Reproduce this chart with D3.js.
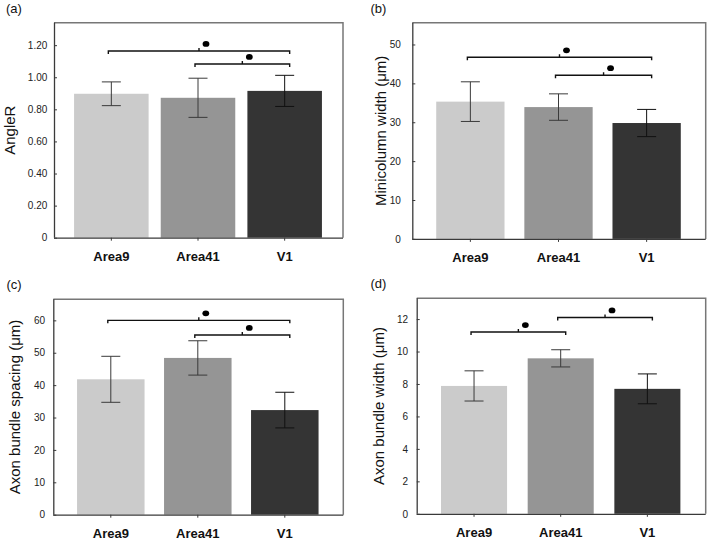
<!DOCTYPE html>
<html>
<head>
<meta charset="utf-8">
<script src="https://cdn.jsdelivr.net/npm/d3@7"></script>
<style>
  html, body { margin: 0; padding: 0; background: #fff; }
  svg { display: block; }
</style>
</head>
<body>
<svg id="chart" width="709" height="540"></svg>
<script>
// ---------- DATA ----------
const categories = ["Area9", "Area41", "V1"];
const barColors = ["#cbcbcb", "#959595", "#343434"];

const angleR = [0.897, 0.872, 0.915];
const angleRErr = [0.074, 0.122, 0.097];

const minicolumnWidth = [35.3, 33.9, 29.8];
const minicolumnWidthErr = [5.1, 3.4, 3.5];

const axonSpacing = [41.8, 48.4, 32.3];
const axonSpacingErr = [7.1, 5.3, 5.5];

const axonWidth = [7.88, 9.58, 7.70];
const axonWidthErr = [0.93, 0.53, 0.92];

const ticksA = [0, 0.2, 0.4, 0.6, 0.8, 1.0, 1.2];
const ticksB = [0, 10, 20, 30, 40, 50];
const ticksC = [0, 10, 20, 30, 40, 50, 60];
const ticksD = [0, 2, 4, 6, 8, 10, 12];

// significance brackets: [fromIndex, toIndex, yValue]
const bracketsA = [[0, 2, 1.164], [1, 2, 1.083]];
const bracketsB = [[0, 2, 46.7], [1, 2, 42.1]];
const bracketsC = [[0, 2, 60.0], [1, 2, 55.5]];
const bracketsD = [[0, 1, 11.2], [1, 2, 12.1]];

// ---------- LAYOUT ----------
const panels = [
  { label: "(a)", lx: 6, ly: 13, title: "AngleR", values: angleR, errs: angleRErr,
    ticks: ticksA, fmt: v => v === 0 ? "0" : d3.format(".2f")(v), ymax: 1.34,
    left: 54, right: 343, top: 22.7, bottom: 237.7, pin: 0.14, tpad: 6.7, tx: -45, brackets: bracketsA },
  { label: "(b)", lx: 370.5, ly: 13, title: "Minicolumn width (\u03bcm)", values: minicolumnWidth, errs: minicolumnWidthErr,
    ticks: ticksB, fmt: d3.format("d"), ymax: 55.6,
    left: 412.3, right: 705.7, top: 22.7, bottom: 238.9, pin: 0.225, tpad: 11.5, tx: -32, brackets: bracketsB },
  { label: "(c)", lx: 6.5, ly: 289, title: "Axon bundle spacing (\u03bcm)", values: axonSpacing, errs: axonSpacingErr,
    ticks: ticksC, fmt: d3.format("d"), ymax: 66.5,
    left: 53.3, right: 343.3, top: 299.3, bottom: 514.7, pin: 0.224, tpad: 8.3, tx: -39, brackets: bracketsC },
  { label: "(d)", lx: 370.5, ly: 288, title: "Axon bundle width (\u03bcm)", values: axonWidth, errs: axonWidthErr,
    ticks: ticksD, fmt: d3.format("d"), ymax: 13.28,
    left: 416.7, right: 705.7, top: 298.3, bottom: 513.8, pin: 0.238, tpad: 8.7, tx: -38.7, brackets: bracketsD }
];

const svg = d3.select("#chart");
const FONT = "'Liberation Sans', Arial, sans-serif";

panels.forEach(p => {
  const g = svg.append("g");
  const x = d3.scaleBand().domain(categories)
    .range([p.left + 14, p.right - 15]).paddingInner(p.pin).paddingOuter(p.pin / 2);
  const y = d3.scaleLinear().domain([0, p.ymax]).range([p.bottom, p.top]);

  // bars
  g.selectAll("rect.bar").data(categories).join("rect")
    .attr("class", "bar")
    .attr("x", d => x(d))
    .attr("width", x.bandwidth())
    .attr("y", (d, i) => y(p.values[i]))
    .attr("height", (d, i) => y(0) - y(p.values[i]))
    .attr("fill", (d, i) => barColors[i]);

  // error bars
  const cap = 9.5;
  categories.forEach((c, i) => {
    const cx = x(c) + x.bandwidth() / 2;
    const hi = y(p.values[i] + p.errs[i]);
    const lo = y(p.values[i] - p.errs[i]);
    const col = i === 2 ? "#111" : "#3a3a3a";
    g.append("line").attr("x1", cx).attr("x2", cx).attr("y1", hi).attr("y2", lo)
      .attr("stroke", col).attr("stroke-width", 1);
    g.append("line").attr("x1", cx - cap).attr("x2", cx + cap).attr("y1", hi).attr("y2", hi)
      .attr("stroke", col).attr("stroke-width", 1);
    g.append("line").attr("x1", cx - cap).attr("x2", cx + cap).attr("y1", lo).attr("y2", lo)
      .attr("stroke", col).attr("stroke-width", 1);
  });

  // frame top/right
  g.append("path")
    .attr("d", `M${p.left},${p.top}H${p.right}V${p.bottom}`)
    .attr("fill", "none").attr("stroke", "#777").attr("stroke-width", 1.5);

  // y axis
  const ya = g.append("g").attr("transform", `translate(${p.left},0)`)
    .call(d3.axisLeft(y).tickValues(p.ticks).tickFormat(p.fmt)
      .tickSizeInner(-3).tickSizeOuter(0).tickPadding(p.tpad));
  ya.select(".domain").attr("stroke", "#3a3a3a").attr("stroke-width", 1.3)
    .attr("d", `M0.5,${p.top}V${p.bottom}`);
  ya.selectAll(".tick line").attr("stroke", "#3a3a3a");
  ya.selectAll(".tick text").attr("font-family", FONT).attr("font-size", 10).attr("fill", "#222");

  // x axis
  const xa = g.append("g").attr("transform", `translate(0,${p.bottom})`)
    .call(d3.axisBottom(x).tickSizeInner(3).tickSizeOuter(0).tickPadding(11.3));
  xa.select(".domain").attr("stroke", "#3a3a3a").attr("stroke-width", 1.3)
    .attr("d", `M${p.left},0.5H${p.right}`);
  xa.selectAll(".tick line").attr("stroke", "#3a3a3a");
  xa.selectAll(".tick text").attr("font-family", FONT).attr("font-size", 13)
    .attr("font-weight", "bold").attr("fill", "#111");

  // y title
  g.append("text")
    .attr("transform", `translate(${p.left + p.tx},${(p.top + p.bottom) / 2}) rotate(-90)`)
    .attr("text-anchor", "middle").attr("dominant-baseline", "central")
    .attr("font-family", FONT).attr("font-size", 15).attr("fill", "#111")
    .text(p.title);

  // panel label
  g.append("text").attr("x", p.lx).attr("y", p.ly)
    .attr("font-family", FONT).attr("font-size", 13).attr("fill", "#111")
    .text(p.label);

  // brackets
  p.brackets.forEach(([a, b, v]) => {
    const x1 = x(categories[a]) + x.bandwidth() / 2 - 3;
    const x2 = x(categories[b]) + x.bandwidth() / 2 + 5;
    const yy = y(v);
    const mid = (x1 + x2) / 2;
    g.append("path")
      .attr("d", `M${x1},${yy + 3}V${yy}H${x2}V${yy + 3}M${mid},${yy}V${yy - 3}`)
      .attr("fill", "none").attr("stroke", "#111").attr("stroke-width", 1.4);
    g.append("ellipse").attr("cx", mid + 7).attr("cy", yy - 7)
      .attr("rx", 3.4).attr("ry", 2.9).attr("fill", "#000");
  });
});
</script>
</body>
</html>
